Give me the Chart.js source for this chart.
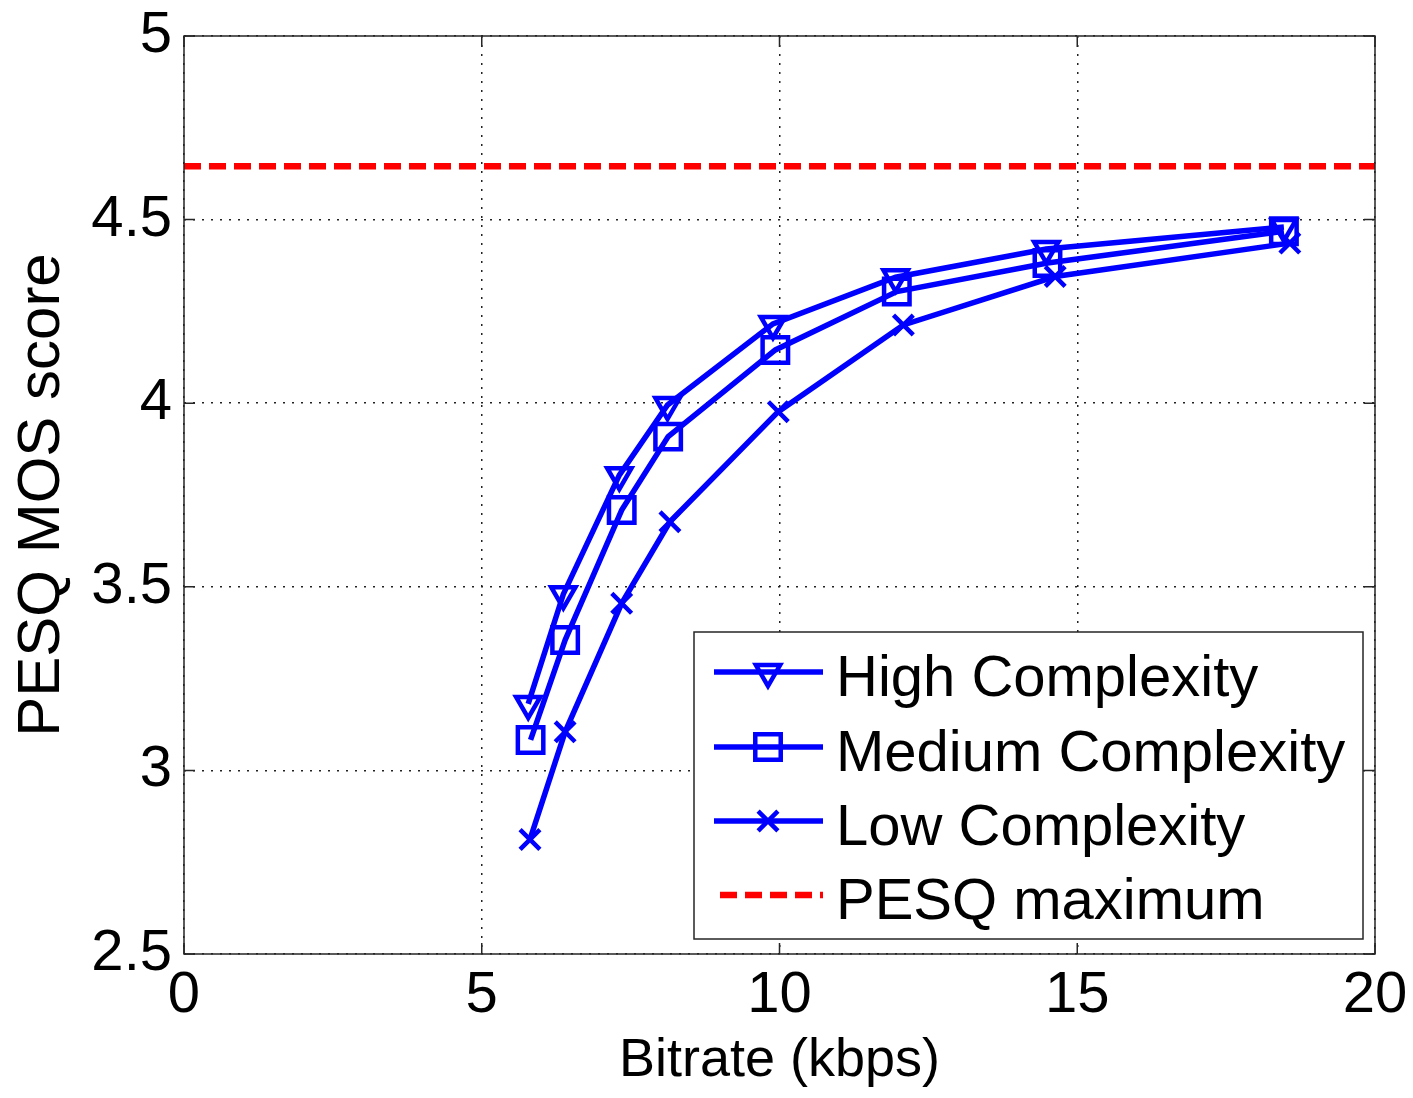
<!DOCTYPE html>
<html><head><meta charset="utf-8">
<script src="https://cdn.jsdelivr.net/npm/chart.js@4/dist/chart.umd.min.js"></script>
<style>html,body{margin:0;padding:0;background:#fff}#wrap{width:1413px;height:1098px}</style>
</head><body><div id="wrap"><canvas id="c" width="1413" height="1098"></canvas></div>
<script>
const xTicks = [0, 5, 10, 15, 20];
const yTicks = [2.5, 3, 3.5, 4, 4.5, 5];
const seriesNames = ['High Complexity', 'Medium Complexity', 'Low Complexity', 'PESQ maximum'];
const highX = [5.78, 6.37, 7.31, 8.12, 9.89, 11.95, 14.48, 18.47];
const highY = [3.181, 3.480, 3.804, 3.995, 4.216, 4.343, 4.420, 4.480];
const medX  = [5.82, 6.40, 7.35, 8.13, 9.93, 11.97, 14.50, 18.47];
const medY  = [3.083, 3.355, 3.709, 3.909, 4.145, 4.304, 4.382, 4.468];
const lowX  = [5.81, 6.40, 7.35, 8.16, 9.98, 12.08, 14.63, 18.57];
const lowY  = [2.812, 3.105, 3.455, 3.677, 3.977, 4.213, 4.345, 4.436];
const pesqMaxX = [0, 20];
const pesqMaxY = [4.645, 4.645];

const FONT = '"Liberation Sans", Arial, Helvetica, sans-serif';
const BLUE = 'rgb(0,0,255)';
const RED = 'rgb(255,0,0)';
const pts = (xs, ys) => xs.map((v, i) => ({x: v, y: ys[i]}));

const styles = [
  {pointStyle: 'triangle', radius: 14, rotation: 180, color: BLUE, lw: 5.5, dash: []},
  {pointStyle: 'rect', radius: 18, rotation: 0, color: BLUE, lw: 5.5, dash: []},
  {pointStyle: 'crossRot', radius: 14, rotation: 0, color: BLUE, lw: 5.5, dash: []},
  {pointStyle: false, radius: 0, rotation: 0, color: RED, lw: 6.5, dash: [17, 8]}
];
const seriesData = [pts(highX, highY), pts(medX, medY), pts(lowX, lowY), pts(pesqMaxX, pesqMaxY)];

const datasets = seriesData.map((d, i) => ({
  label: seriesNames[i],
  data: d,
  borderColor: styles[i].color,
  backgroundColor: 'rgba(0,0,0,0)',
  borderWidth: styles[i].lw,
  borderDash: styles[i].dash,
  pointStyle: styles[i].pointStyle,
  pointRadius: styles[i].radius,
  pointRotation: styles[i].rotation,
  pointBorderWidth: 4.5,
  pointBorderColor: styles[i].color,
  pointBackgroundColor: 'rgba(0,0,0,0)',
  pointHoverRadius: styles[i].radius,
  tension: 0,
  fill: false
}));

const boxPlugin = {
  id: 'box',
  afterDatasetsDraw(chart) {
    const {ctx, chartArea: a, scales: {x, y}} = chart;
    ctx.save();
    ctx.strokeStyle = '#262626';
    ctx.lineWidth = 1.5;
    ctx.strokeRect(a.left, a.top, a.right - a.left, a.bottom - a.top);
    const L = 11;
    ctx.beginPath();
    xTicks.forEach(v => {
      const px = x.getPixelForValue(v);
      ctx.moveTo(px, a.bottom); ctx.lineTo(px, a.bottom - L);
      ctx.moveTo(px, a.top); ctx.lineTo(px, a.top + L);
    });
    yTicks.forEach(v => {
      const py = y.getPixelForValue(v);
      ctx.moveTo(a.left, py); ctx.lineTo(a.left + L, py);
      ctx.moveTo(a.right, py); ctx.lineTo(a.right - L, py);
    });
    ctx.stroke();
    ctx.restore();
  }
};

const legendPlugin = {
  id: 'mlegend',
  afterDraw(chart) {
    const ctx = chart.ctx;
    const bx = 694, by = 632, bw = 669, bh = 307;
    ctx.save();
    ctx.fillStyle = '#fff';
    ctx.fillRect(bx, by, bw, bh);
    ctx.strokeStyle = '#262626';
    ctx.lineWidth = 1.5;
    ctx.strokeRect(bx, by, bw, bh);
    const rows = [672, 747, 821, 895];
    seriesNames.forEach((name, i) => {
      const s = styles[i];
      const ry = rows[i];
      ctx.strokeStyle = s.color;
      ctx.lineWidth = s.lw;
      ctx.setLineDash(s.dash);
      ctx.beginPath();
      ctx.moveTo(i === 3 ? 720 : 714, ry);
      ctx.lineTo(823, ry);
      ctx.stroke();
      ctx.setLineDash([]);
      if (s.pointStyle) {
        ctx.lineWidth = 4.5;
        ctx.fillStyle = 'rgba(0,0,0,0)';
        Chart.helpers.drawPoint(ctx, {pointStyle: s.pointStyle, radius: s.radius, rotation: s.rotation, borderWidth: 4.5}, 768, ry);
      }
      ctx.fillStyle = '#000';
      ctx.font = '58px ' + FONT;
      ctx.textAlign = 'left';
      ctx.textBaseline = 'alphabetic';
      ctx.fillText(name, 836, ry + 24);
    });
    ctx.restore();
  }
};

new Chart(document.getElementById('c'), {
  type: 'line',
  data: {datasets},
  options: {
    responsive: false,
    animation: false,
    devicePixelRatio: 1,
    layout: {padding: {left: 0, top: 36, right: 38, bottom: 0}},
    plugins: {legend: {display: false}, tooltip: {enabled: false}},
    scales: {
      x: {
        type: 'linear', min: 0, max: 20,
        afterBuildTicks: s => { s.ticks = xTicks.map(v => ({value: v})); },
        afterFit: s => { s.height = 144; s.paddingLeft = 0; s.paddingRight = 0; },
        ticks: {font: {family: FONT, size: 58}, color: '#000', padding: 7, maxRotation: 0, callback: v => String(v)},
        grid: {color: '#222', lineWidth: 1.5, drawTicks: false},
        border: {display: false, dash: [2, 7]},
        title: {display: true, text: 'Bitrate (kbps)', font: {family: FONT, size: 54}, color: '#000', padding: {top: 0, bottom: 4}}
      },
      y: {
        type: 'linear', min: 2.5, max: 5,
        afterBuildTicks: s => { s.ticks = yTicks.map(v => ({value: v})); },
        afterFit: s => { s.width = 184; s.paddingTop = 0; s.paddingBottom = 0; },
        ticks: {font: {family: FONT, size: 58}, color: '#000', padding: 12, callback: v => String(v)},
        grid: {color: '#222', lineWidth: 1.5, drawTicks: false},
        border: {display: false, dash: [2, 7]},
        title: {display: true, text: 'PESQ MOS score', font: {family: FONT, size: 60}, color: '#000', padding: {top: 6, bottom: 0}}
      }
    }
  },
  plugins: [boxPlugin, legendPlugin]
});
</script>
</body></html>
